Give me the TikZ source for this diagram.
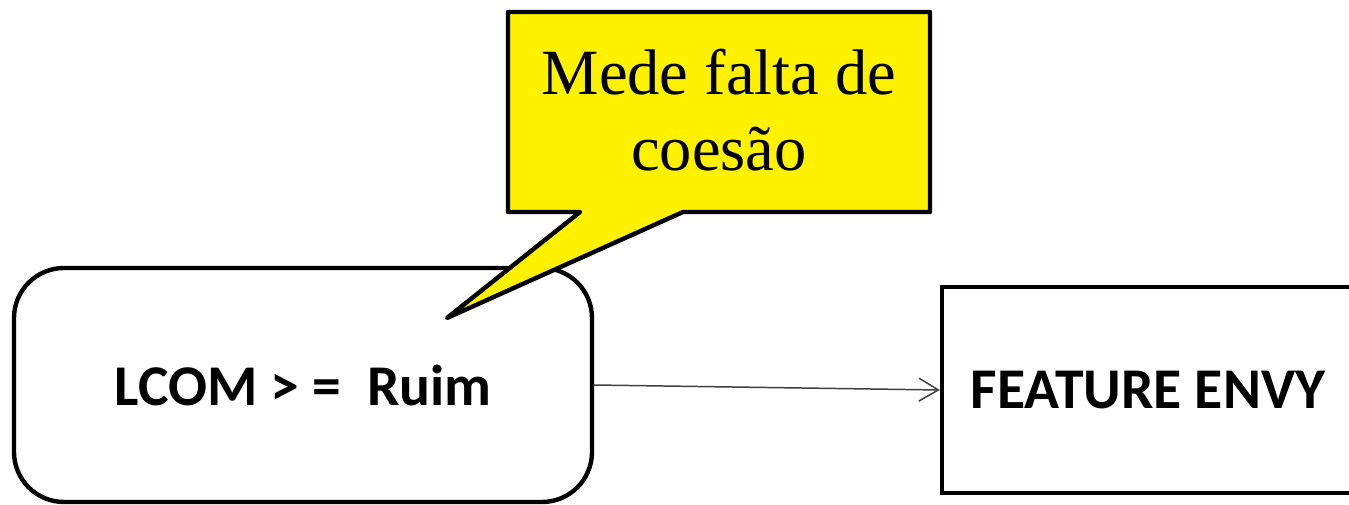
\documentclass[tikz,border=0pt]{standalone}
\usepackage{fontspec}
\setmainfont{Liberation Serif}
\newfontfamily\boxfont{Carlito}
\usepackage{tikz}
\usetikzlibrary{arrows.meta, calc}

\tikzset{
    smellbox/.style={draw=black, line width=2.5pt, minimum width=#1, font=\boxfont\bfseries\fontsize{32.8}{38}\selectfont},
    balloon/.style={draw=black, fill=yellow, line width=2.5pt, line join=round}
}

\begin{document}
\begin{tikzpicture}
        \useasboundingbox (0,0) rectangle (26.98,10.1);
        % boxes
        \node[smellbox=11.56cm, minimum height=4.68cm, rounded corners=1cm] (lcom) at (6.06,2.4) {LCOM > =\ \ Ruim};
        \node[smellbox=8.24cm, minimum height=4.12cm] (envy) at (22.96,2.3) {FEATURE ENVY};
        \draw[line width=0.85pt, black!75, -{Straight Barb[length=11pt,width=13pt]}] (lcom.east)--(envy.west);

        % balloon
        \coordinate (tip) at (8.94,3.74);
        \draw[balloon] (10.16,9.86)--(18.6,9.86)--(18.6,5.86)--(13.66,5.86)--(tip)--(11.6,5.86)--(10.16,5.86)--cycle;
        \node[align=center, font=\fontsize{36.7}{43}\selectfont] (note) at (14.38,7.9) {Mede falta de\\coesão};
    \end{tikzpicture}
\end{document}
